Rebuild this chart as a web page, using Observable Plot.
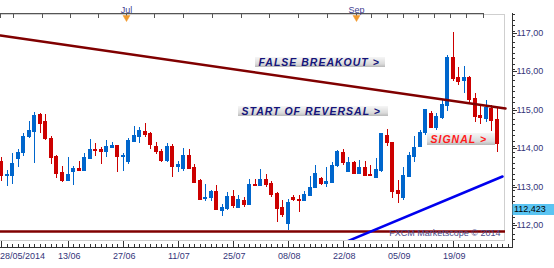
<!DOCTYPE html>
<html><head><meta charset="utf-8">
<script src="https://cdn.jsdelivr.net/npm/d3@7"></script>
<script src="https://cdn.jsdelivr.net/npm/@observablehq/plot@0.6"></script>
<style>
html,body{margin:0;padding:0;background:#fff;}
#chart{width:554px;height:268px;overflow:hidden;}
</style></head><body><div id="chart"></div>
<script>
// Daily candles, 28/05/2014 onward (index = trading day)
const open = [
113.667,113.302,113.302,113.745,113.901,114.318,114.448,114.891,114.708,114.266,
113.797,113.380,113.172,113.406,113.484,113.432,113.745,113.979,113.979,113.927,
114.031,114.083,113.797,113.667,114.188,114.318,114.448,114.396,114.057,113.927,
113.693,114.057,113.536,113.484,113.823,113.510,113.172,112.703,112.729,112.885,
112.391,112.443,112.755,112.469,112.651,112.547,113.068,113.042,113.198,113.094,
112.833,112.469,112.052,112.729,112.677,112.651,112.781,112.990,113.224,113.094,
113.120,113.563,113.901,113.406,113.641,113.354,113.510,113.328,113.250,113.432,
114.344,114.161,112.911,112.729,113.276,113.797,114.057,114.422,114.917,114.552,
114.813,115.125,116.375,115.854,115.776,115.854,115.307,114.865,114.786,115.047,
114.760];
const high = [
113.771,113.432,113.875,113.979,114.396,114.708,114.943,114.917,114.891,114.318,
113.823,113.536,113.771,113.536,113.667,113.875,114.240,114.135,114.031,114.214,
114.161,114.090,113.875,114.266,114.578,114.552,114.656,114.422,114.161,113.979,
114.135,114.109,113.667,114.005,113.979,113.589,113.190,113.068,112.911,113.042,
112.547,112.859,112.911,112.781,112.729,113.198,113.198,113.458,113.328,113.146,
112.850,112.651,112.677,112.781,112.781,112.885,113.276,113.563,113.250,113.510,
113.641,113.953,113.979,113.771,113.667,113.693,113.667,113.563,113.745,114.400,
114.500,114.170,113.172,113.510,113.901,114.318,114.474,115.030,114.969,114.917,
115.281,116.427,117.026,116.115,116.141,115.880,115.438,115.151,115.255,115.125,
115.047];
const low = [
113.146,113.016,113.068,113.510,113.797,114.266,113.615,114.396,114.214,113.589,
113.224,113.120,113.146,113.042,113.420,113.420,113.730,113.797,113.589,113.771,
114.005,113.380,113.406,113.589,114.180,114.135,114.292,113.979,113.849,113.641,
113.641,113.250,113.380,113.406,113.458,113.110,112.660,112.625,112.625,112.400,
112.234,112.391,112.443,112.443,112.469,112.521,113.016,113.030,112.990,112.729,
112.078,112.208,111.870,112.625,112.339,112.625,112.755,112.964,113.042,112.990,
113.110,113.510,113.563,113.380,113.340,113.328,113.276,113.276,113.240,113.380,
114.057,112.703,112.573,112.651,113.250,113.641,114.031,114.344,114.526,114.474,
114.760,114.969,115.750,115.646,115.438,115.177,114.682,114.630,114.682,114.448,
113.901];
const close = [
113.302,113.328,113.615,113.901,114.318,114.474,114.865,114.656,114.266,113.771,
113.354,113.172,113.328,113.484,113.432,113.771,113.979,113.953,113.927,114.057,
114.083,113.797,113.823,114.214,114.344,114.474,114.370,114.109,113.927,113.693,
114.057,113.536,113.589,113.823,113.484,113.120,112.677,112.729,112.885,112.417,
112.469,112.755,112.521,112.677,112.547,113.068,113.042,113.198,113.068,112.807,
112.443,112.286,112.599,112.677,112.651,112.807,112.990,113.354,113.094,113.146,
113.563,113.927,113.641,113.641,113.354,113.510,113.302,113.302,113.458,114.396,
114.161,112.885,112.833,113.302,113.823,114.031,114.422,115.021,114.552,114.839,
115.151,116.375,115.828,115.750,115.854,115.281,114.839,114.813,115.073,114.734,
114.135];

// bottom axis labels (trading-day index)
const dateTickIdx = [0, 12, 22, 32, 42, 52, 62, 72, 82];
const dateTickLabels = ["28/05/2014","13/06","27/06","11/07","25/07","08/08","22/08","05/09","19/09"];
// top axis
const topTickIdx = [-0.2, 2.09, 7.36, 12.45, 17.55, 22.64, 27.73, 33.0, 38.27, 43.55, 48.64, 53.91, 59.18, 64.45, 67.18, 70.09, 73.0, 75.73, 78.64, 81.55, 84.45, 87.55];
const monthIdx = [22.64, 64.45];
const monthLabels = ["Jul", "Sep"];
// price axis
const priceTicks = [112, 113, 114, 115, 116, 117];
const lastPrice = 112.423;
// drawn lines (index, price)
const resistanceI = [-0.27, 91.55];
const resistanceV = [116.96, 115.04];
const supportUpI = [60, 91.0];
const supportUpV = [111.42, 113.27];
const floorV = 111.844;
const floorI = [-0.27, 91.5];
// annotations
const annLabels = ["FALSE BREAKOUT >", "START OF REVERSAL >", "SIGNAL >"];
const annColors = ["#14147a", "#14147a", "#ff1a1a"];
const annTextI = [46.6, 43.6, 77.9];
const annTextV = [116.245, 114.969, 114.240];
const annBoxI1 = [46.09, 43.0, 77.36];
const annBoxI2 = [69.73, 70.27, 89.73];
const annBoxV1 = [116.375, 115.099, 114.396];
const annBoxV2 = [116.115, 114.839, 114.083];

const up = "#0066cc", down = "#cc0000";
const candles = open.map((o, i) => ({i, o, h: high[i], l: low[i], c: close[i], col: close[i] >= o ? up : down}));
const resistance = resistanceI.map((i, k) => ({i, v: resistanceV[k]}));
const supportUp = supportUpI.map((i, k) => ({i, v: supportUpV[k]}));
const anns = annLabels.map((label, k) => ({label, col: annColors[k], ti: annTextI[k], tv: annTextV[k], x1: annBoxI1[k], x2: annBoxI2[k], y1: annBoxV1[k], y2: annBoxV2[k]}));
const months = monthLabels.map((label, k) => ({label, i: monthIdx[k]}));
const dateTicks = dateTickLabels.map((label, k) => ({label, i: dateTickIdx[k]}));

const yMin = 111.609, yMax = 117.495;
const xMin = -0.2727, xMax = 92.818;
const axisCol = "#333", labelCol = "#34347a";
const minorY = d3.range(111.625, 117.5, 1/7).map(v => +v.toFixed(4)).filter(v => v >= yMin && v <= yMax);
const dayTicks = d3.range(0, 93);

const plot = Plot.plot({
  width: 554, height: 268,
  marginTop: 14, marginBottom: 28, marginLeft: 0, marginRight: 42,
  style: {fontFamily: "'Liberation Sans', Arial, sans-serif", fontSize: "9px", background: "white"},
  x: {domain: [xMin, xMax], round: true, axis: null},
  y: {domain: [yMin, yMax], round: true, axis: null},
  color: {type: "identity"},
  marks: [
    Plot.frame({stroke: "#cfcfcf", insetRight: 8, insetLeft: -3}),
    // candles
    Plot.ruleX(candles, {x: "i", y1: "l", y2: "h", stroke: "col"}),
    Plot.rect(candles, {x1: "i", x2: "i", y1: "o", y2: "c", fill: "col", insetLeft: -2, insetRight: -2, insetBottom: -1}),
    // lines
    Plot.ruleY([floorV], {x1: floorI[0], x2: floorI[1], stroke: "#800000", strokeWidth: 2.5}),
    Plot.line(resistance, {x: "i", y: "v", stroke: "#800000", strokeWidth: 2.5}),
    Plot.line(supportUp, {x: "i", y: "v", stroke: "#0000ee", strokeWidth: 2.5, clip: true}),
    // annotations
    Plot.rect(anns, {x1: "x1", x2: "x2", y1: "y1", y2: "y2", fill: "url(#annGrad)"}),
    Plot.text(anns, {x: "ti", y: "tv", text: "label", fill: "col", textAnchor: "start", fontWeight: "bold", fontStyle: "italic", fontSize: 10.5}),
    Plot.text(["FXCM Marketscope © 2014"], {frameAnchor: "bottom-right", textAnchor: "end", dx: -12, dy: -5, fill: "#4a4a8c", fontSize: 9}),
    // top axis
    Plot.ruleY([yMax], {x1: xMin, x2: topTickIdx[topTickIdx.length - 1], stroke: "#555", dy: -1}),
    Plot.ruleX(topTickIdx, {x: d => d, insetTop: -1, insetBottom: 222, stroke: "#555"}),
    Plot.dot(months, {x: "i", frameAnchor: "top", dy: 3, symbol: "triangle", r: 2.6, rotate: 180, fill: "#f29a2e", stroke: "#f29a2e", strokeWidth: 0.5}),
    Plot.text(months, {x: "i", text: "label", frameAnchor: "top", dy: -8, fill: "#3c3c90", fontSize: 9}),
    // bottom axis
    Plot.ruleY([yMin], {x1: xMin, x2: xMax, dy: 7, stroke: axisCol}),
    Plot.ruleX(dayTicks, {x: d => d, insetTop: 230, insetBottom: -7, stroke: axisCol}),
    Plot.ruleX(dateTickIdx, {x: d => d, insetTop: 227, insetBottom: -7, stroke: axisCol}),
    Plot.text(dateTicks.slice(0, 1), {x: "i", text: "label", frameAnchor: "bottom", textAnchor: "start", dx: -1.5, dy: 18, fill: labelCol, fontSize: 9}),
    Plot.text(dateTicks.slice(1), {x: "i", text: "label", frameAnchor: "bottom", textAnchor: "start", dx: -10.5, dy: 18, fill: labelCol, fontSize: 9}),
    // right axis
    Plot.ruleX([xMax], {insetTop: -1, insetBottom: -8, stroke: axisCol}),
    Plot.axisY(minorY, {anchor: "right", tickSize: 2, tickFormat: () => "", stroke: axisCol}),
    Plot.axisY({anchor: "right", ticks: priceTicks, tickSize: 4, tickPadding: 0, tickFormat: d => d.toFixed(2).replace(".", ","), stroke: axisCol, fill: labelCol, fontSize: 9}),
    Plot.ruleY([lastPrice], {insetLeft: 512.5, insetRight: -42, stroke: "#5ac4f2", strokeWidth: 11}),
    Plot.text([lastPrice], {y: d => d, text: d => d.toFixed(3).replace(".", ","), frameAnchor: "right", textAnchor: "start", dx: 1.5, fill: "#000", fontSize: 9})
  ]
});

// gradient for annotation boxes
const svg = d3.select(plot);
const defs = svg.insert("defs", ":first-child");
const g = defs.append("linearGradient").attr("id", "annGrad").attr("x1", 0).attr("y1", 0).attr("x2", 0).attr("y2", 1);
g.append("stop").attr("offset", "0%").attr("stop-color", "#f6f6f6");
g.append("stop").attr("offset", "70%").attr("stop-color", "#dadada");
g.append("stop").attr("offset", "100%").attr("stop-color", "#b8b8b8");
svg.selectAll("text").filter(function() { return annLabels.includes(this.textContent); }).attr("letter-spacing", "1px");

document.getElementById("chart").appendChild(plot);
</script></body></html>
